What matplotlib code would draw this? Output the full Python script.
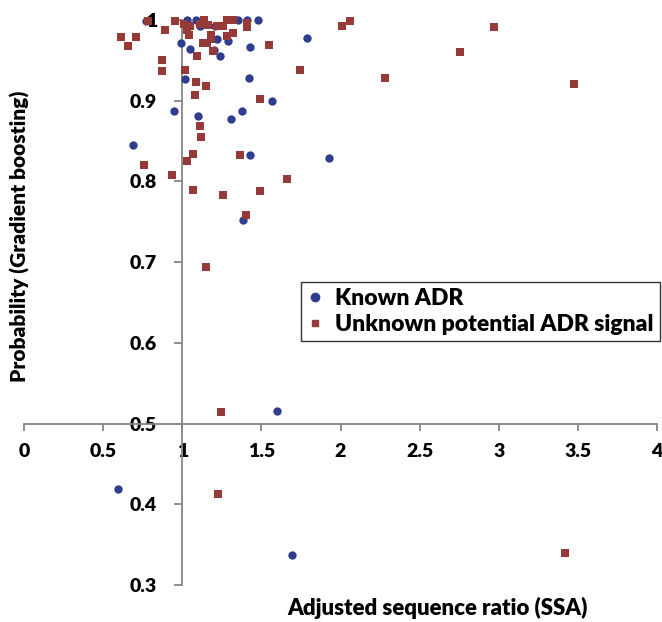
import matplotlib
matplotlib.use("Agg")
import matplotlib.pyplot as plt
from matplotlib.lines import Line2D

plt.rcParams['font.family'] = ['Lato', 'DejaVu Sans']
plt.rcParams['font.weight'] = 'bold'

# Known ADR (blue circles)
known_x = [0.77, 1.03, 1.09, 1.03, 1.11, 1.21, 1.22, 1.29, 1.35, 1.41, 1.48, 1.79,
           0.99, 1.05, 1.20, 1.24, 1.43, 1.02, 1.42, 1.57, 0.95, 1.10, 1.31, 1.38,
           0.69, 1.43, 1.93, 1.385, 1.597, 0.596, 1.694]
known_y = [0.999, 1.0, 1.0, 0.992, 0.992, 0.992, 0.976, 0.974, 1.0, 1.0, 1.0, 0.978,
           0.972, 0.964, 0.963, 0.955, 0.967, 0.927, 0.928, 0.900, 0.887, 0.881, 0.877, 0.887,
           0.845, 0.833, 0.829, 0.752, 0.515, 0.419, 0.337]

# Unknown potential ADR signal (red squares)
unk_x = [0.785, 0.955, 0.61, 0.71, 0.66, 0.89, 0.87, 0.87, 1.01, 1.05, 1.04, 1.03,
         1.11, 1.14, 1.16, 1.18, 1.22, 1.26, 1.285, 1.32, 1.32, 1.28, 1.41, 1.41,
         1.13, 1.155, 1.18, 1.196, 1.095, 1.55, 1.745, 1.02, 1.09, 1.15, 1.08, 1.49,
         1.11, 1.12, 1.07, 1.03, 0.76, 0.935, 1.365, 1.66, 1.07, 1.49, 1.26, 1.40,
         1.15, 2.06, 2.01, 2.97, 2.755, 2.28, 3.475, 1.243, 1.224, 3.42]
unk_y = [0.999, 0.999, 0.979, 0.979, 0.968, 0.988, 0.950, 0.937, 0.995, 0.992, 0.982, 0.988,
         0.995, 1.0, 0.994, 0.982, 0.992, 0.993, 1.0, 1.0, 0.984, 0.980, 0.996, 0.991,
         0.972, 0.972, 0.977, 0.961, 0.955, 0.969, 0.938, 0.938, 0.923, 0.918, 0.907, 0.902,
         0.869, 0.855, 0.834, 0.825, 0.820, 0.808, 0.833, 0.803, 0.789, 0.788, 0.783, 0.758,
         0.694, 0.999, 0.993, 0.991, 0.960, 0.928, 0.921, 0.5145, 0.413, 0.340]

x_ticks = [0, 0.5, 1, 1.5, 2, 2.5, 3, 3.5, 4]
x_ticklabels = ['0', '0.5', '1', '1.5', '2', '2.5', '3', '3.5', '4']
y_ticks = [0.3, 0.4, 0.5, 0.6, 0.7, 0.8, 0.9, 1.0]
y_ticklabels = ['0.3', '0.4', '0.5', '0.6', '0.7', '0.8', '0.9', '1']

blue = '#2F3D8E'
red = '#953A37'
axis_gray = '#868686'
W = 'heavy'

fig = plt.figure(figsize=(6.62, 6.22), dpi=100)
ax = fig.add_axes([24/662, 1-585/622, 633/662, 565/622])
ax.set_xlim(0, 4)
ax.set_ylim(0.3, 1.0)

ax.scatter(known_x, known_y, s=36, marker='o', color=blue, linewidths=0, clip_on=False, zorder=3)
ax.scatter(unk_x, unk_y, s=28, marker='s', color=red, linewidths=0, clip_on=False, zorder=4)

for side in ['top', 'right']:
    ax.spines[side].set_visible(False)
ax.spines['left'].set_position(('data', 1.0))
ax.spines['bottom'].set_position(('data', 0.5))
for side in ['left', 'bottom']:
    ax.spines[side].set_color(axis_gray)
    ax.spines[side].set_linewidth(1.3)

ax.set_xticks(x_ticks)
ax.set_xticklabels(x_ticklabels)
ax.set_yticks(y_ticks)
ax.set_yticklabels(y_ticklabels)
ax.tick_params(axis='x', direction='out', length=5, width=1.3, color=axis_gray,
               labelsize=14, pad=9)
ax.tick_params(axis='y', direction='out', length=6, width=1.3, color=axis_gray,
               labelsize=14, pad=12)
for lab in ax.get_xticklabels() + ax.get_yticklabels():
    lab.set_fontweight(W)

fig.text(437/662, 1-608/622, 'Adjusted sequence ratio (SSA)', ha='center', va='center',
         fontsize=16, fontweight=W)
fig.text(20/662, 1-236/622, 'Probability (Gradient boosting)', ha='center', va='center',
         rotation=90, fontsize=15, fontweight=W)

handles = [Line2D([], [], marker='o', linestyle='none', color=blue, markersize=6),
           Line2D([], [], marker='s', linestyle='none', color=red, markersize=5)]
leg = fig.legend(handles, ['Known ADR', 'Unknown potential ADR signal'],
                 loc='upper left', bbox_to_anchor=(301/662, 1-282/622),
                 borderaxespad=0, frameon=True, fancybox=False,
                 prop={'size': 16.5, 'weight': W},
                 handlelength=0.7, handletextpad=0.5, borderpad=0.28,
                 labelspacing=0.2)
leg.get_frame().set_edgecolor('black')
leg.get_frame().set_linewidth(1.0)

fig.savefig('out.png', dpi=100)
